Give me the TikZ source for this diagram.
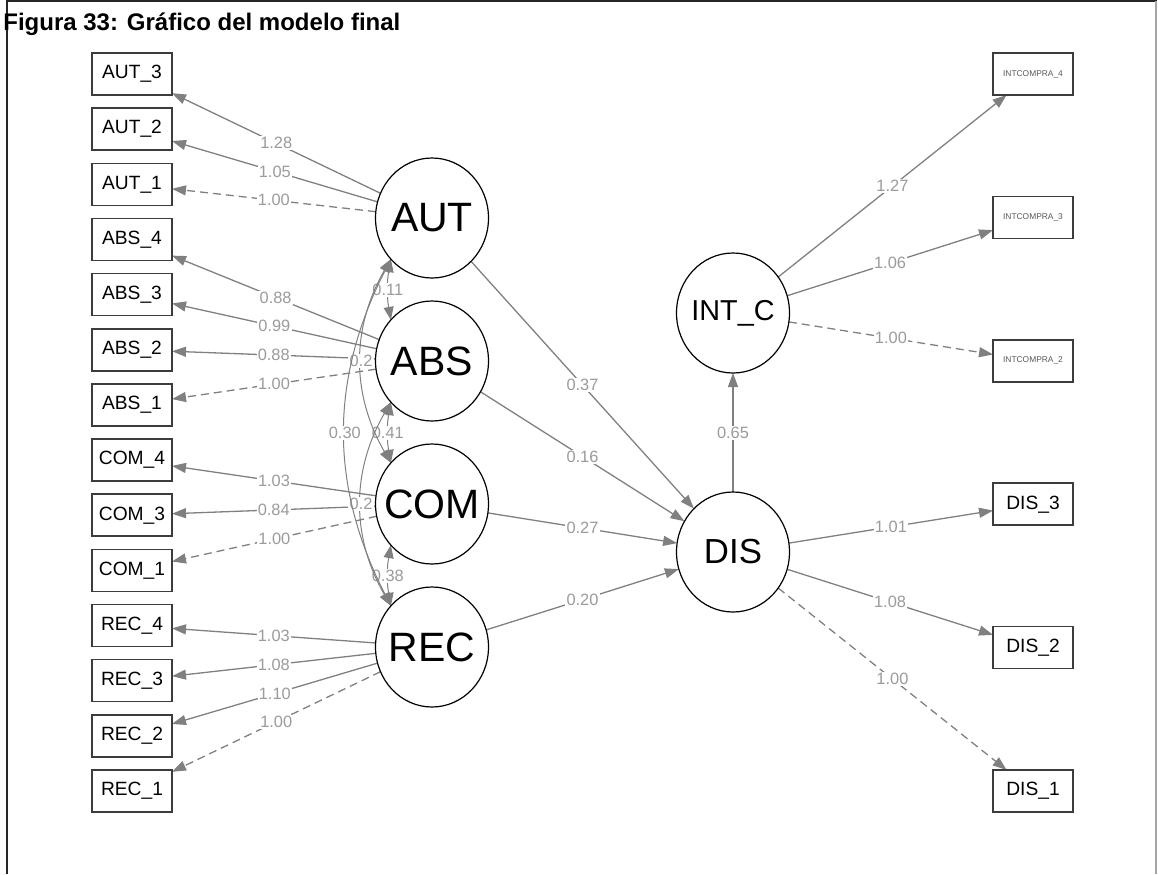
\documentclass[tikz,border=0pt]{standalone}
\usepackage{fontspec}
\setmainfont{Liberation Sans}
\usetikzlibrary{positioning,shapes.geometric,arrows.meta}
\definecolor{edgegray}{RGB}{128,128,128}
\definecolor{labelgray}{RGB}{155,155,155}
\definecolor{boxgray}{RGB}{60,60,60}
\pgfdeclarelayer{background}
\pgfsetlayers{background,main}
\newcommand{\latname}[1]{\makebox[0pt]{#1}}

\begin{document}
\begin{tikzpicture}[
      x=0.5pt, y=-0.5pt,
      ind/.style={draw=boxgray, line width=0.8pt, fill=white, inner sep=0pt, outer sep=0pt,
                  minimum width=40pt, minimum height=21pt, font=\fontsize{9.6}{10}\selectfont},
      indsmall/.style={ind, text=black!65, font=\fontsize{4.2}{5}\selectfont},
      latent/.style={draw, ellipse, line width=0.6pt, fill=white, inner sep=0pt, outer sep=0pt,
                  minimum width=56.5pt, minimum height=60pt, font=\fontsize{20.5}{22}\selectfont},
      load/.style={-{Triangle[length=7pt,width=5pt]}, line width=0.65pt, draw=edgegray},
      fixed/.style={load, dash pattern=on 4pt off 2.5pt},
      cov/.style={{Triangle[length=6.5pt,width=5pt]}-{Triangle[length=6.5pt,width=5pt]},
                  line width=0.5pt, draw=edgegray},
      lbl/.style={fill=white, inner sep=0.6pt, text=labelgray, font=\fontsize{8.2}{9}\selectfont},
  ]
    \useasboundingbox (0,0) rectangle (1158,874);
    % frame and title
    \draw[line width=1.3pt, black!85] (7,874) -- (7,1) -- (1157,1);
    \draw[line width=0.6pt, black!35] (1156,1) -- (1156,874);
    \node[anchor=base west, inner sep=0pt, font=\bfseries\fontsize{12}{13}\selectfont] (title)
      at (3,30) {Figura 33: Gráfico del modelo final};

    % indicators, left column
    \node[ind] (aut3) at (132,74) {AUT\_3};
    \node[ind, below=6.575pt of aut3] (aut2) {AUT\_2};
    \node[ind, below=6.575pt of aut2] (aut1) {AUT\_1};
    \node[ind, below=6.575pt of aut1] (abs4) {ABS\_4};
    \node[ind, below=6.575pt of abs4] (abs3) {ABS\_3};
    \node[ind, below=6.575pt of abs3] (abs2) {ABS\_2};
    \node[ind, below=6.575pt of abs2] (abs1) {ABS\_1};
    \node[ind, below=6.575pt of abs1] (com4) {COM\_4};
    \node[ind, below=6.575pt of com4] (com3) {COM\_3};
    \node[ind, below=6.575pt of com3] (com1) {COM\_1};
    \node[ind, below=6.575pt of com1] (rec4) {REC\_4};
    \node[ind, below=6.575pt of rec4] (rec3) {REC\_3};
    \node[ind, below=6.575pt of rec3] (rec2) {REC\_2};
    \node[ind, below=6.575pt of rec2] (rec1) {REC\_1};

    % latent variables
    \node[latent] (aut) at (432,218) {\latname{AUT}};
    \node[latent, below=11.5pt of aut] (abs) {\latname{ABS}};
    \node[latent, below=11.5pt of abs] (com) {\latname{COM}};
    \node[latent, below=11.5pt of com] (rec) {\latname{REC}};
    \node[latent, font=\fontsize{17.4}{19}\selectfont] (dis) at (733,552) {\latname{DIS}};
    \node[latent, font=\fontsize{14.4}{16}\selectfont, above=59.5pt of dis] (intc) {\latname{INT\_C}};

    % indicators, right column
    \node[indsmall] (int4) at (1033,74) {INTCOMPRA\_4};
    \node[indsmall, below=50.7pt of int4] (int3) {INTCOMPRA\_3};
    \node[indsmall, below=50.7pt of int3] (int2) {INTCOMPRA\_2};
    \node[ind, below=50.7pt of int2] (dis3) {DIS\_3};
    \node[ind, below=50.7pt of dis3] (dis2) {DIS\_2};
    \node[ind, below=50.7pt of dis2] (dis1) {DIS\_1};

    \begin{pgfonlayer}{background}
    % loadings
    \draw[load] (aut) -- node[lbl] {1.28} (aut3);
    \draw[load] (aut) -- node[lbl] {1.05} (aut2);
    \draw[fixed] (aut) -- node[lbl] {1.00} (aut1);
    \draw[load] (abs) -- node[lbl] {0.88} (abs4);
    \draw[load] (abs) -- node[lbl] {0.99} (abs3);
    \draw[load] (abs) -- node[lbl] {0.88} (abs2);
    \draw[fixed] (abs) -- node[lbl] {1.00} (abs1);
    \draw[load] (com) -- node[lbl] {1.03} (com4);
    \draw[load] (com) -- node[lbl] {0.84} (com3);
    \draw[fixed] (com) -- node[lbl] {1.00} (com1);
    \draw[load] (rec) -- node[lbl] {1.03} (rec4);
    \draw[load] (rec) -- node[lbl] {1.08} (rec3);
    \draw[load] (rec) -- node[lbl] {1.10} (rec2);
    \draw[fixed] (rec) -- node[lbl] {1.00} (rec1);
    \draw[load] (intc) -- node[lbl] {1.27} (int4);
    \draw[load] (intc) -- node[lbl] {1.06} (int3);
    \draw[fixed] (intc) -- node[lbl] {1.00} (int2);
    \draw[load] (dis) -- node[lbl] {1.01} (dis3);
    \draw[load] (dis) -- node[lbl] {1.08} (dis2);
    \draw[fixed] (dis) -- node[lbl] {1.00} (dis1);

    % structural paths
    \draw[load] (aut) -- node[lbl] {0.37} (dis);
    \draw[load] (abs) -- node[lbl] {0.16} (dis);
    \draw[load] (com) -- node[lbl] {0.27} (dis);
    \draw[load] (rec) -- node[lbl] {0.20} (dis);
    \draw[load] (dis) -- node[lbl] {0.65} (intc);

    % covariances
    \draw[cov] (aut.225) to[bend right=10] node[lbl] {0.11} (abs.135);
    \draw[cov] (abs.225) to[bend right=10] node[lbl] {0.41} (com.135);
    \draw[cov] (com.225) to[bend right=10] node[lbl] {0.38} (rec.135);
    \draw[cov] (aut.225) to[bend right=30] node[lbl] {0.2} (com.135);
    \draw[cov] (abs.225) to[bend right=30] node[lbl] {0.2} (rec.135);
    \draw[cov] (aut.225) to[bend right=27] node[lbl] {0.30} (rec.135);
    \end{pgfonlayer}
  \end{tikzpicture}
\end{document}
